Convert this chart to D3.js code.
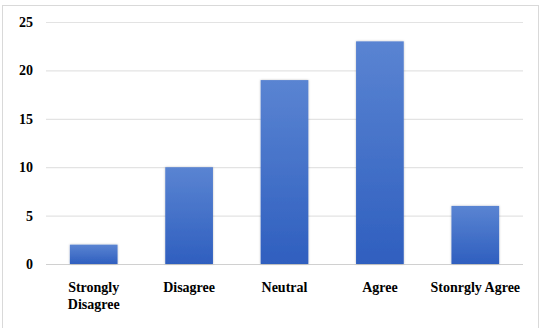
<!DOCTYPE html>
<html>
<head>
<meta charset="utf-8">
<script src="https://cdn.jsdelivr.net/npm/d3@7"></script>
<style>
  body { margin: 0; background: #fff; }
  svg text { font-family: "Liberation Serif", "Times New Roman", serif !important; font-weight: bold; fill: #000; }
</style>
</head>
<body>
<svg width="541" height="328"></svg>
<script>
var categories = ["Strongly Disagree", "Disagree", "Neutral", "Agree", "Stonrgly Agree"];
var labelLines = [["Strongly", "Disagree"], ["Disagree"], ["Neutral"], ["Agree"], ["Stonrgly Agree"]];
var counts = [2, 10, 19, 23, 6];
var yTicks = [0, 5, 10, 15, 20, 25];

var svg = d3.select("svg");

// outer frame
svg.append("rect")
    .attr("x", 2.5).attr("y", 5.5)
    .attr("width", 536).attr("height", 330)
    .attr("fill", "#fff")
    .attr("stroke", "#d9d9d9");

var margin = {top: 22, right: 18, bottom: 64, left: 46},
    width = 541 - margin.left - margin.right,
    height = 264 - margin.top;

var g = svg.append("g").attr("transform", "translate(" + margin.left + "," + margin.top + ")");

var x = d3.scaleBand()
    .domain(categories)
    .range([0, width])
    .paddingInner(0.5)
    .paddingOuter(0.25);

var y = d3.scaleLinear()
    .domain([0, 25])
    .range([height, 0]);

var defs = svg.append("defs");
var grad = defs.append("linearGradient")
    .attr("id", "barGrad")
    .attr("x1", 0).attr("y1", 0).attr("x2", 0).attr("y2", 1);
grad.append("stop").attr("offset", "0%").attr("stop-color", "#5a84d2");
grad.append("stop").attr("offset", "100%").attr("stop-color", "#2f5fbf");

var shadow = defs.append("filter").attr("id", "shadow")
    .attr("x", "-10%").attr("y", "-10%").attr("width", "120%").attr("height", "120%");
shadow.append("feDropShadow")
    .attr("dx", 0).attr("dy", 0).attr("stdDeviation", 1.2)
    .attr("flood-color", "#000").attr("flood-opacity", 0.25);

// gridlines
g.append("g")
    .attr("class", "grid")
    .selectAll("line")
    .data(yTicks)
    .enter().append("line")
    .attr("x1", 0)
    .attr("x2", width)
    .attr("y1", function(d) { return y(d) + 0.5; })
    .attr("y2", function(d) { return y(d) + 0.5; })
    .attr("stroke", function(d) { return d === 0 ? "#d0d0d0" : "#e3e3e3"; })
    .attr("stroke-width", 1.2);

// y axis labels
var yAxis = g.append("g")
    .call(d3.axisLeft(y).tickValues(yTicks).tickSize(0).tickPadding(13));
yAxis.select(".domain").remove();
yAxis.selectAll("text")
    .style("font-size", "14px");

// bars
g.append("g")
    .selectAll("rect")
    .data(counts)
    .enter().append("rect")
    .attr("x", function(d, i) { return x(categories[i]); })
    .attr("y", function(d) { return y(d); })
    .attr("width", x.bandwidth())
    .attr("height", function(d) { return height - y(d); })
    .attr("fill", "url(#barGrad)")
    .attr("filter", "url(#shadow)");

// x labels
var xl = g.append("g")
    .selectAll("text")
    .data(categories)
    .enter().append("text")
    .attr("text-anchor", "middle")
    .attr("x", function(d) { return x(d) + x.bandwidth() / 2; })
    .attr("y", height + 28)
    .style("font-size", "14px");

xl.selectAll("tspan")
    .data(function(d, i) { return labelLines[i]; })
    .enter().append("tspan")
    .attr("x", function() { return d3.select(this.parentNode).attr("x"); })
    .attr("dy", function(d, i) { return i === 0 ? 0 : 17; })
    .text(function(d) { return d; });
</script>
</body>
</html>
